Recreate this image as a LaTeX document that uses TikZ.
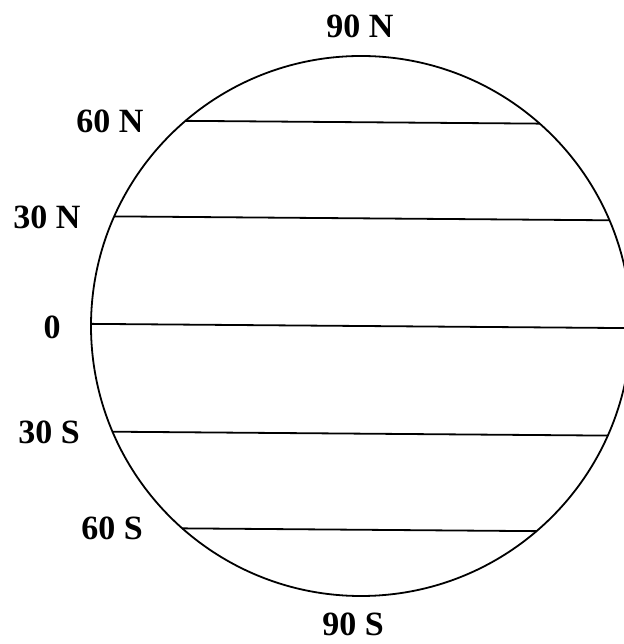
\documentclass[tikz,border=0pt]{standalone}
\usepackage{fontspec}
\setmainfont{Liberation Serif}
\usetikzlibrary{calc}
\begin{document}
\begin{tikzpicture}[x=1pt,y=1pt,line width=1.8pt,
  lat/.style={font=\fontsize{34}{40}\selectfont\bfseries,inner sep=0pt}]
\useasboundingbox (0,0) rectangle (623,644);
\coordinate (c) at (361,318);
\draw (c) circle[radius=270];
% parallels, a little tilted as in the scan
\foreach \p in {49,23.5,0,-23.5,-49}{
\draw ($(c)+(180-\p-0.45:270)$) -- ($(c)+(\p-0.45:270)$);
}
\node[lat] (n90) at (360,618) {90 N};
\node[lat] (n60) at (110,523) {60 N};
\node[lat] (n30) at (47,427) {30 N};
\node[lat] (eq) at (52,317) {0};
\node[lat] (s30) at (49,212) {30 S};
\node[lat] (s60) at (112,116) {60 S};
\node[lat] (s90) at (353,20) {90 S};
\end{tikzpicture}
\end{document}
